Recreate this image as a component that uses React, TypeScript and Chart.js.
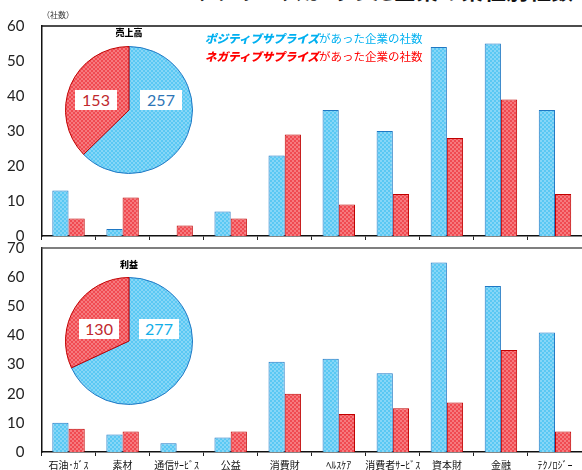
import React, { useEffect, useRef } from "react";
import { Chart, registerables } from "chart.js";
Chart.register(...registerables);

const categories = ["石油･ｶﾞｽ", "素材", "通信ｻｰﾋﾞｽ", "公益", "消費財", "ﾍﾙｽｹｱ", "消費者ｻｰﾋﾞｽ", "資本財", "金融", "ﾃｸﾉﾛｼﾞｰ"];
const salesPositive = [13, 2, 0, 7, 23, 36, 30, 54, 55, 36];
const salesNegative = [5, 11, 3, 5, 29, 9, 12, 28, 39, 12];
const profitPositive = [10, 6, 3, 5, 31, 32, 27, 65, 57, 41];
const profitNegative = [8, 7, 0, 7, 20, 13, 15, 17, 35, 7];
const salesMax = 60;
const profitMax = 70;
const salesPie = [257, 153];
const profitPie = [277, 130];
const pieLabels = ["ポジティブ", "ネガティブ"];

const BLUE_A = "#5ac8f3";
const BLUE_B = "#86d6f7";
const BLUE_BORDER = "#1f78c4";
const RED_A = "#f04a51";
const RED_B = "#f67a7e";
const RED_BORDER = "#c00000";

const CANVAS_H = 490;

function makePattern(ctx: CanvasRenderingContext2D, c1: string, c2: string) {
  const cv = document.createElement("canvas");
  cv.width = 4;
  cv.height = 4;
  const p = cv.getContext("2d")!;
  p.fillStyle = c1;
  p.fillRect(0, 0, 4, 4);
  p.fillStyle = c2;
  p.fillRect(0, 0, 2, 2);
  p.fillRect(2, 2, 2, 2);
  return ctx.createPattern(cv, "repeat")!;
}

const frameTop = {
  id: "frameTop",
  afterDraw(chart: any, _args: any, opts: any) {
    const { ctx, chartArea } = chart;
    ctx.save();
    ctx.strokeStyle = opts.color || "#222";
    ctx.lineWidth = opts.width || 1.5;
    ctx.beginPath();
    ctx.moveTo(chartArea.left, chartArea.top);
    ctx.lineTo(chartArea.right, chartArea.top);
    ctx.stroke();
    ctx.restore();
  },
};

function barConfig(ctx: CanvasRenderingContext2D, pos: number[], neg: number[], max: number, top: number, bottom: number, xHeight: number, showLabels: boolean, frameColor: string): any {
  return {
    type: "bar",
    data: {
      labels: categories,
      datasets: [
        { data: pos, backgroundColor: makePattern(ctx, BLUE_A, BLUE_B), borderColor: BLUE_BORDER, borderWidth: 1, categoryPercentage: 0.6, barPercentage: 1 },
        { data: neg, backgroundColor: makePattern(ctx, RED_A, RED_B), borderColor: RED_BORDER, borderWidth: 1, categoryPercentage: 0.6, barPercentage: 1 },
      ],
    },
    options: {
      responsive: false,
      animation: false,
      devicePixelRatio: 1,
      layout: { padding: { top, bottom, left: 0, right: 0 } },
      plugins: { legend: { display: false }, tooltip: { enabled: false }, frameTop: { color: frameColor, width: 1.5 } },
      scales: {
        x: {
          offset: true,
          grid: { offset: true, drawOnChartArea: false, drawTicks: true, tickLength: 4, color: "#222", lineWidth: 1 },
          border: { display: true, color: "#111", width: 1.5 },
          ticks: { display: showLabels, autoSkip: false, maxRotation: 0, minRotation: 0, padding: 3, color: "#111", font: { family: "'Noto Sans CJK JP'", size: 10 } },
          afterFit(scale: any) { scale.height = xHeight; },
        },
        y: {
          min: 0,
          max,
          ticks: { stepSize: 10, padding: 17, color: "#222", font: { family: "Lato", size: 15 } },
          grid: { display: false, drawTicks: false },
          border: { display: true, color: "#111", width: 1.5 },
          afterFit(scale: any) { scale.width = 41.5; },
        },
      },
    },
    plugins: [frameTop],
  };
}

function pieConfig(ctx: CanvasRenderingContext2D, values: number[]): any {
  return {
    type: "pie",
    data: {
      labels: pieLabels,
      datasets: [
        {
          data: values,
          backgroundColor: [makePattern(ctx, BLUE_A, BLUE_B), makePattern(ctx, RED_A, RED_B)],
          borderColor: [BLUE_BORDER, RED_BORDER],
          borderWidth: 1,
        },
      ],
    },
    options: {
      responsive: false,
      animation: false,
      devicePixelRatio: 1,
      layout: { padding: 2 },
      plugins: { legend: { display: false }, tooltip: { enabled: false } },
    },
  };
}

function useChart(ref: React.RefObject<HTMLCanvasElement | null>, make: (ctx: CanvasRenderingContext2D) => any) {
  useEffect(() => {
    const cv = ref.current!;
    const ctx = cv.getContext("2d")!;
    const chart = new Chart(cv, make(ctx));
    return () => chart.destroy();
  }, []);
}

const abs = (left: number, top: number, extra: any = {}): React.CSSProperties => ({ position: "absolute", left, top, ...extra });

function LabelBox({ left, top, w, h, text, color }: any) {
  return (
    <div style={abs(left, top, { width: w, height: h, background: "#fff", color, fontFamily: "Lato, 'Noto Sans'", fontSize: 16, display: "flex", alignItems: "center", justifyContent: "center", lineHeight: 1 })}>
      {text}
    </div>
  );
}

export default function App() {
  const topRef = useRef<HTMLCanvasElement>(null);
  const botRef = useRef<HTMLCanvasElement>(null);
  const pie1Ref = useRef<HTMLCanvasElement>(null);
  const pie2Ref = useRef<HTMLCanvasElement>(null);

  useChart(topRef, (ctx) => barConfig(ctx, salesPositive, salesNegative, salesMax, 20, CANVAS_H - 236 - 6, 6, false, "#111"));
  useChart(botRef, (ctx) => barConfig(ctx, profitPositive, profitNegative, profitMax, 248, CANVAS_H - 452 - 18, 18, true, "#555"));
  useChart(pie1Ref, (ctx) => pieConfig(ctx, salesPie));
  useChart(pie2Ref, (ctx) => pieConfig(ctx, profitPie));

  const legendBold: React.CSSProperties = { fontWeight: 900, fontStyle: "italic" };
  return (
    <div style={{ position: "fixed", left: 0, top: 0, width: 582, height: 470, overflow: "hidden", background: "#fff", fontFamily: "'Noto Sans CJK JP'" }}>
      <div style={abs(192, -26, { fontSize: 22, fontWeight: 700, color: "#111", whiteSpace: "nowrap", letterSpacing: 0.5, lineHeight: "30px" })}>サプライズがあった企業の業種別社数</div>
      <canvas ref={topRef} width={582} height={CANVAS_H} style={abs(0, 0)} />
      <canvas ref={botRef} width={582} height={CANVAS_H} style={abs(0, 0)} />
      <canvas ref={pie1Ref} width={132} height={132} style={abs(63, 43.5)} />
      <canvas ref={pie2Ref} width={132} height={132} style={abs(63, 274.5)} />
      <div style={abs(42, 9, { fontSize: 8, color: "#333", whiteSpace: "nowrap" })}>（社数）</div>
      <div style={abs(99, 26, { width: 60, textAlign: "center", fontSize: 9, fontWeight: 900, color: "#000" })}>売上高</div>
      <div style={abs(99, 258, { width: 60, textAlign: "center", fontSize: 9, fontWeight: 900, color: "#000" })}>利益</div>
      <LabelBox left={75} top={90} w={42} h={20} text="153" color="#c0282d" />
      <LabelBox left={140} top={90} w={42} h={20} text="257" color="#2e75b6" />
      <LabelBox left={79} top={319} w={40} h={20} text="130" color="#c0282d" />
      <LabelBox left={139} top={319} w={40} h={20} text="277" color="#12aee8" />
      <div style={abs(205, 29, { fontSize: 11.5, lineHeight: "18px", whiteSpace: "nowrap" })}>
        <div style={{ color: "#00b0f0" }}>
          <span style={legendBold}>ポジティブサプライズ</span>があった企業の社数
        </div>
        <div style={{ color: "#ff0000" }}>
          <span style={legendBold}>ネガティブサプライズ</span>があった企業の社数
        </div>
      </div>
    </div>
  );
}
